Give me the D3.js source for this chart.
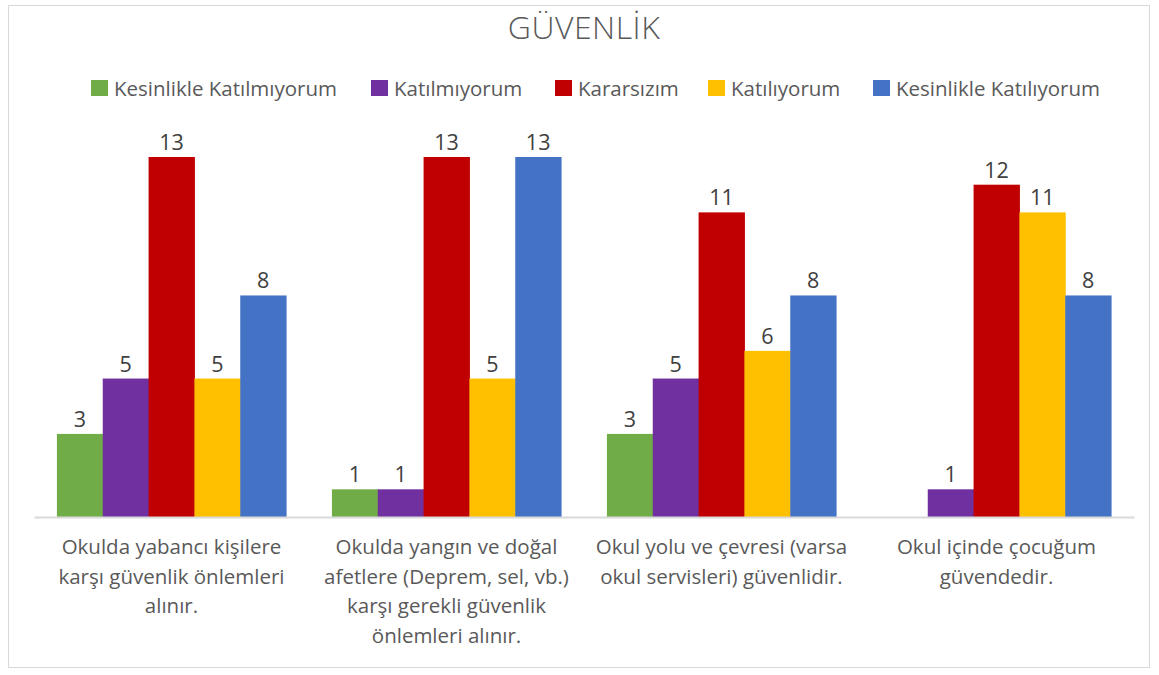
<!DOCTYPE html>
<html><head><meta charset="utf-8">
<script src="https://cdn.jsdelivr.net/npm/d3@7"></script>
<style>body{margin:0;background:#fff;font-family:"Open Sans",sans-serif}</style>
</head><body><svg id="c" width="1159" height="675"></svg>
<script>
const title = "GÜVENLİK";
const categories = [
  "Okulda yabancı kişilere\nkarşı güvenlik önlemleri\nalınır.",
  "Okulda yangın ve doğal\nafetlere (Deprem, sel, vb.)\nkarşı gerekli güvenlik\nönlemleri alınır.",
  "Okul yolu ve çevresi (varsa\nokul servisleri) güvenlidir.",
  "Okul içinde çocuğum\ngüvendedir."
];
const seriesNames = ["Kesinlikle Katılmıyorum","Katılmıyorum","Kararsızım","Katılıyorum","Kesinlikle Katılıyorum"];
const seriesColors = ["#70ad47","#7030a0","#c00000","#ffc000","#4472c4"];
const kesinlikleKatilmiyorum = [3,1,3,null];
const katilmiyorum = [5,1,5,1];
const kararsizim = [13,13,11,12];
const katiliyorum = [5,5,6,11];
const kesinlikleKatiliyorum = [8,13,8,8];
const seriesValues = [kesinlikleKatilmiyorum,katilmiyorum,kararsizim,katiliyorum,kesinlikleKatiliyorum];

const svg = d3.select("#c");
svg.append("rect").attr("x",8.5).attr("y",5.5).attr("width",1141).attr("height",662)
  .attr("fill","#fff").attr("stroke","#d9d9d9");

svg.append("text").attr("x",584).attr("y",39).attr("text-anchor","middle")
  .attr("font-size",32).attr("font-weight",300).attr("letter-spacing",0.5).attr("fill","#595959").text(title);

// legend
const legendX = [91,371,555,708,873];
const lg = svg.append("g");
seriesNames.forEach((n,i)=>{
  lg.append("rect").attr("x",legendX[i]).attr("y",80).attr("width",17).attr("height",16).attr("fill",seriesColors[i]);
  lg.append("text").attr("x",legendX[i]+23).attr("y",96).attr("font-size",20.5).attr("fill","#595959").text(n);
});

const x0 = d3.scaleBand().domain(d3.range(categories.length)).range([34,1134]).paddingInner(0).paddingOuter(0);
const x1 = d3.scaleBand().domain(d3.range(seriesNames.length)).range([0,x0.bandwidth()]).paddingOuter(0.5);
const y = d3.scaleLinear().domain([0,13]).range([517,157]);

const g = svg.append("g");
categories.forEach((c,ci)=>{
  seriesValues.forEach((vals,si)=>{
    const v = vals[ci];
    if(v==null) return;
    g.append("rect").attr("x",x0(ci)+x1(si)).attr("y",y(v)).attr("width",x1.bandwidth()+0.5)
      .attr("height",y(0)-y(v)).attr("fill",seriesColors[si]);
    g.append("text").attr("x",x0(ci)+x1(si)+x1.bandwidth()/2).attr("y",y(v)-7)
      .attr("text-anchor","middle").attr("font-size",21.5).attr("fill","#404040").text(v);
  });
});

const axis = d3.axisBottom(x0).tickSize(0).tickFormat("");
const ag = svg.append("g").attr("transform","translate(0,517)").call(axis);
ag.select(".domain").attr("stroke","#d9d9d9").attr("stroke-width",2);

categories.forEach((c,ci)=>{
  const t = svg.append("text").attr("text-anchor","middle").attr("font-size",20.5).attr("fill","#595959");
  c.split("\n").forEach((line,li)=>{
    t.append("tspan").attr("x",x0(ci)+x0.bandwidth()/2).attr("y",554+li*29.5).text(line);
  });
});
</script></body></html>
